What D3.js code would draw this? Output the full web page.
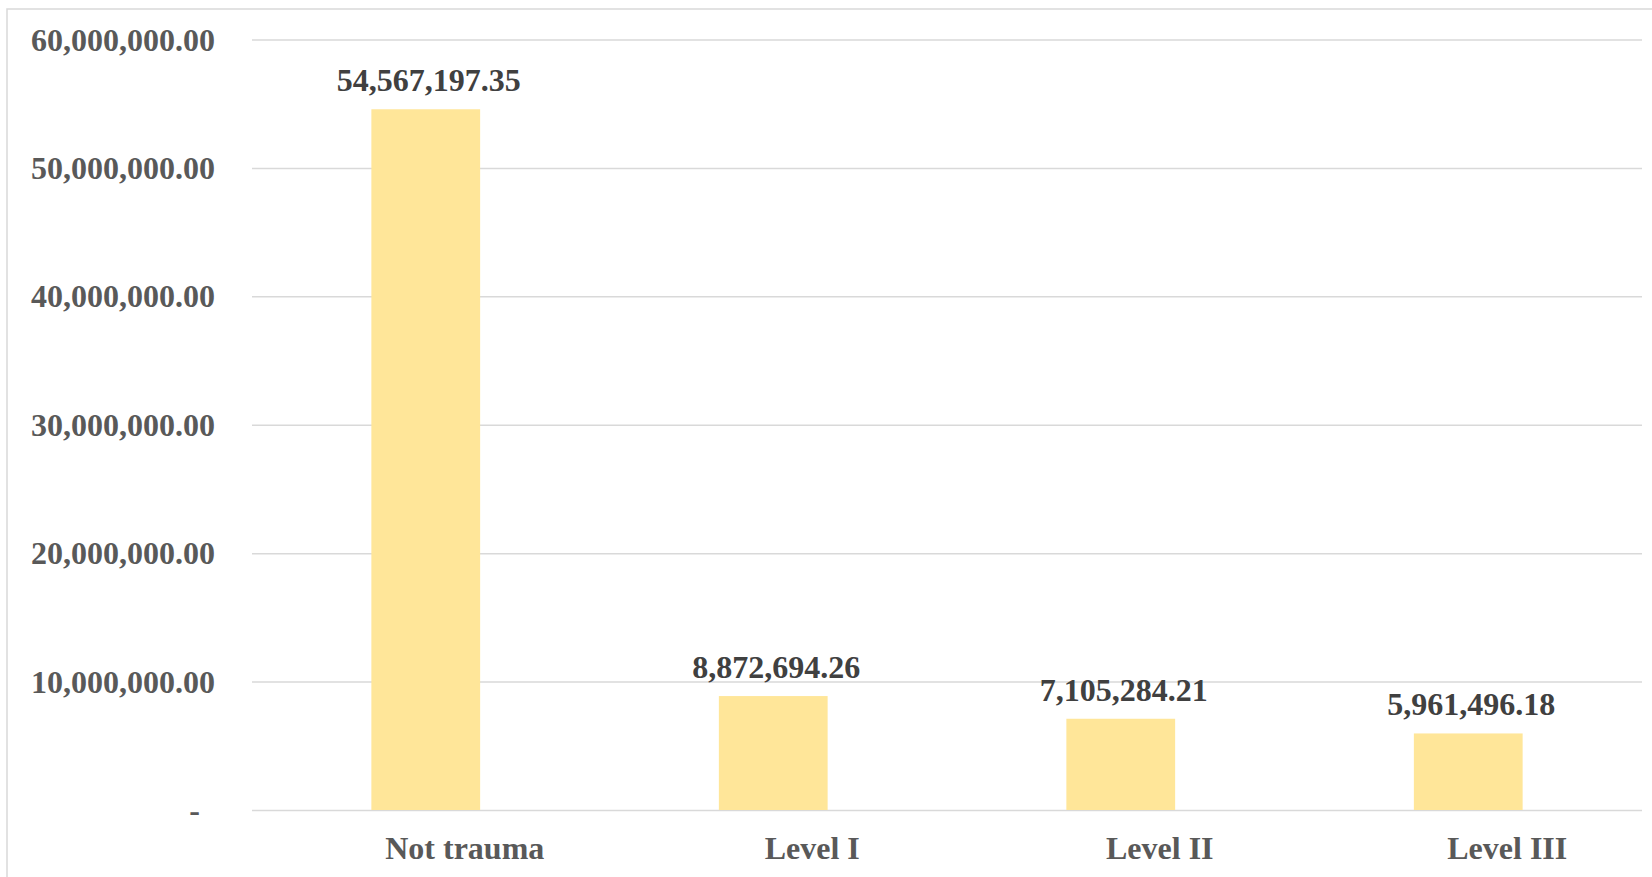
<!DOCTYPE html>
<html>
<head>
<meta charset="utf-8">
<script src="https://cdn.jsdelivr.net/npm/d3@7"></script>
<style>
  html, body { margin: 0; padding: 0; background: #fff; }
  svg { display: block; }
</style>
</head>
<body>
<svg id="chart" width="1652" height="877"></svg>
<script>
const categories = ["Not trauma", "Level I", "Level II", "Level III"];
const values = [54567197.35, 8872694.26, 7105284.21, 5961496.18];
const yTicks = [0, 10000000, 20000000, 30000000, 40000000, 50000000, 60000000];
const yTickLabels = ["-", "10,000,000.00", "20,000,000.00", "30,000,000.00", "40,000,000.00", "50,000,000.00", "60,000,000.00"];

const W = 1652, H = 877;
const plot = { left: 252, right: 1642, top: 39.5, bottom: 810 };
const FONT = "'Liberation Serif', 'Times New Roman', serif";

const svg = d3.select("#chart");

// chart border
svg.append("rect")
  .attr("x", 7).attr("y", 9)
  .attr("width", W).attr("height", H)
  .attr("fill", "#fff")
  .attr("stroke", "#d9d9d9")
  .attr("stroke-width", 1.5);

const y = d3.scaleLinear().domain([0, 60000000]).range([plot.bottom, plot.top]);
const x = d3.scaleBand().domain(categories).range([plot.left, plot.right]).padding(0);
const barW = x.bandwidth() * 0.313;

// y axis with gridlines
const yAxis = d3.axisLeft(y)
  .tickValues(yTicks)
  .tickSize(-(plot.right - plot.left))
  .tickPadding(37)
  .tickFormat((d, i) => yTickLabels[i]);

const gy = svg.append("g")
  .attr("transform", `translate(${plot.left},0)`)
  .call(yAxis);
gy.select(".domain").remove();
gy.selectAll(".tick line").attr("stroke", "#d9d9d9").attr("stroke-width", 1.5);
gy.selectAll(".tick text")
  .attr("fill", "#595959")
  .style("font-family", FONT)
  .style("font-weight", "bold")
  .style("font-size", "32px")
  .attr("dy", "0.33em");
gy.selectAll(".tick text").filter(d => d === 0).attr("x", -52);

// bars
svg.append("g").selectAll("rect")
  .data(values)
  .join("rect")
  .attr("x", (d, i) => x(categories[i]) + x.bandwidth() / 2 - barW / 2)
  .attr("y", d => y(d))
  .attr("width", barW)
  .attr("height", d => y(0) - y(d))
  .attr("fill", "#FFE699");

// data labels
const fmt = d3.format(",.2f");
svg.append("g").selectAll("text")
  .data(values)
  .join("text")
  .attr("x", (d, i) => x(categories[i]) + x.bandwidth() / 2 + 3)
  .attr("y", d => y(d) - 18)
  .attr("text-anchor", "middle")
  .attr("fill", "#404040")
  .style("font-family", FONT)
  .style("font-weight", "bold")
  .style("font-size", "32px")
  .text(d => fmt(d));

// x axis labels
const xAxis = d3.axisBottom(x).tickSize(0).tickPadding(26);
const gx = svg.append("g")
  .attr("transform", `translate(0,${plot.bottom})`)
  .call(xAxis);
gx.select(".domain").remove();
gx.selectAll(".tick text")
  .attr("x", 39)
  .attr("fill", "#595959")
  .style("font-family", FONT)
  .style("font-weight", "bold")
  .style("font-size", "32px");
</script>
</body>
</html>
